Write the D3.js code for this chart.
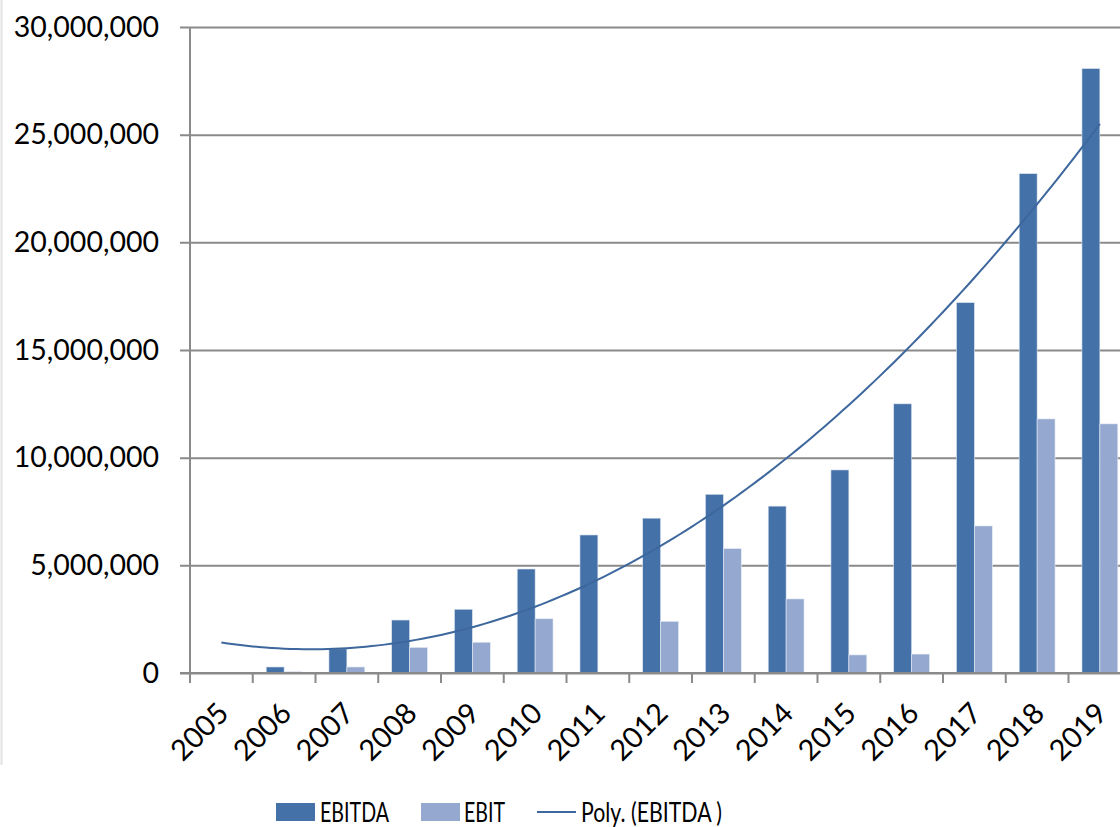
<!DOCTYPE html>
<html>
<head>
<meta charset="utf-8">
<script src="https://cdn.jsdelivr.net/npm/d3@7"></script>
<style>
  body { margin: 0; background: #fff; }
  text { font-family: Lato, "Open Sans", sans-serif; fill: #000; }
</style>
</head>
<body>
<svg id="chart" width="1120" height="827"></svg>
<script>
/* chart data */
const years = ["2005", "2006", "2007", "2008", "2009", "2010", "2011", "2012",
  "2013", "2014", "2015", "2016", "2017", "2018", "2019"];
const ebitda = [0, 280000, 1120000, 2460000, 2960000, 4830000, 6410000, 7190000,
  8300000, 7750000, 9430000, 12500000, 17200000, 23190000, 28070000];
const ebit = [0, 60000, 280000, 1190000, 1430000, 2520000, 30000, 2400000,
  5780000, 3440000, 840000, 880000, 6830000, 11800000, 11570000];
const yTicks = [0, 5000000, 10000000, 15000000, 20000000, 25000000, 30000000];
const legendItems = ["EBITDA", "EBIT", "Poly. (EBITDA )"];

const colDark = "#4472a8";
const colLight = "#95a9d0";
const colLine = "#3d679d";
const colGrid = "#8a8a8a";

const svg = d3.select("#chart");
const margin = { left: 190, top: 27, bottom: 673 };
const bandW = 62.75;

/* scales */
const xScale = d3.scaleBand()
  .domain(years)
  .range([margin.left, margin.left + bandW * years.length])
  .padding(0);

const yScale = d3.scaleLinear()
  .domain([0, 30000000])
  .range([margin.bottom, margin.top]);

const unit = xScale.bandwidth() / 3.5; /* excel style gap width 150% */

/* faint page border on the left */
svg.append("line")
  .attr("x1", 1.5).attr("x2", 1.5).attr("y1", 0).attr("y2", 765)
  .attr("stroke", "#e2e2e2").attr("stroke-width", 2);

/* gridlines + y axis */
const yAxis = d3.axisLeft(yScale)
  .tickValues(yTicks)
  .tickSize(-(xScale.range()[1] - margin.left) - 10)
  .tickPadding(20)
  .tickFormat(d3.format(","));

const gy = svg.append("g")
  .attr("transform", `translate(${margin.left - 10},0)`)
  .call(yAxis);
gy.select(".domain").remove();
gy.selectAll(".tick line")
  .attr("stroke", colGrid).attr("stroke-width", 2)
  .attr("x1", 0);
gy.selectAll(".tick text")
  .attr("x", -21)
  .style("font-size", "28.5px");

/* vertical axis line */
svg.append("line")
  .attr("x1", margin.left).attr("x2", margin.left)
  .attr("y1", margin.top).attr("y2", margin.bottom + 10)
  .attr("stroke", colGrid).attr("stroke-width", 2);

/* category tick marks */
svg.append("g")
  .selectAll("line")
  .data(years)
  .enter()
  .append("line")
  .attr("x1", (d) => xScale(d))
  .attr("x2", (d) => xScale(d))
  .attr("y1", margin.bottom)
  .attr("y2", margin.bottom + 10)
  .attr("stroke", colGrid).attr("stroke-width", 2);

/* bars */
svg.append("g")
  .selectAll("rect")
  .data(years)
  .enter()
  .append("rect")
  .attr("x", (d) => xScale(d) + unit * 0.75)
  .attr("y", (d, i) => yScale(ebitda[i]))
  .attr("width", unit)
  .attr("height", (d, i) => margin.bottom - yScale(ebitda[i]))
  .attr("fill", colDark)
  .attr("stroke", "#dfe6f0").attr("stroke-width", 0.6);

svg.append("g")
  .selectAll("rect")
  .data(years)
  .enter()
  .append("rect")
  .attr("x", (d) => xScale(d) + unit * 1.75)
  .attr("y", (d, i) => yScale(ebit[i]))
  .attr("width", unit)
  .attr("height", (d, i) => margin.bottom - yScale(ebit[i]))
  .attr("fill", colLight)
  .attr("stroke", "#e8edf5").attr("stroke-width", 0.6);

/* x axis baseline over bars */
svg.append("line")
  .attr("x1", margin.left - 10).attr("x2", xScale.range()[1])
  .attr("y1", margin.bottom).attr("y2", margin.bottom)
  .attr("stroke", colGrid).attr("stroke-width", 2);

/* polynomial (order 2) trendline fitted to EBITDA */
const n = ebitda.length;
let s = [0, 0, 0, 0, 0], sy = [0, 0, 0];
ebitda.forEach((v, i) => {
  const t = i + 1;
  for (let k = 0; k < 5; k++) s[k] += Math.pow(t, k);
  for (let k = 0; k < 3; k++) sy[k] += v * Math.pow(t, k);
});
function solve3(A, b) {
  const m = A.map((r, i) => r.concat([b[i]]));
  for (let c = 0; c < 3; c++) {
    let p = c;
    for (let r = c + 1; r < 3; r++) if (Math.abs(m[r][c]) > Math.abs(m[p][c])) p = r;
    [m[c], m[p]] = [m[p], m[c]];
    for (let r = 0; r < 3; r++) {
      if (r === c) continue;
      const f = m[r][c] / m[c][c];
      for (let k = c; k < 4; k++) m[r][k] -= f * m[c][k];
    }
  }
  return m.map((r, i) => r[3] / r[i]);
}
const coef = solve3(
  [[s[0], s[1], s[2]], [s[1], s[2], s[3]], [s[2], s[3], s[4]]], sy);
const trend = d3.range(1, n + 0.001, 0.1).map((t) => ({
  t: t,
  v: coef[0] + coef[1] * t + coef[2] * t * t
}));
const tPos = d3.scaleLinear()
  .domain([1, n])
  .range([xScale(years[0]) + bandW / 2, xScale(years[n - 1]) + bandW / 2]);

svg.append("path")
  .datum(trend)
  .attr("fill", "none")
  .attr("stroke", colLine)
  .attr("stroke-width", 2)
  .attr("d", d3.line().x((d) => tPos(d.t)).y((d) => yScale(d.v)));

/* x labels, rotated */
svg.append("g")
  .selectAll("text")
  .data(years)
  .enter()
  .append("text")
  .attr("text-anchor", "end")
  .attr("transform", (d) =>
    `translate(${xScale(d) + bandW / 2 + 9},${margin.bottom + 42}) rotate(-45)`)
  .style("font-size", "29px")
  .text((d) => d);

/* legend */
const legend = svg.append("g");
legend.append("rect")
  .attr("x", 276).attr("y", 803).attr("width", 39).attr("height", 18)
  .attr("fill", colDark);
legend.append("text")
  .attr("x", 320).attr("y", 822).style("font-size", "26px")
  .attr("textLength", 69).attr("lengthAdjust", "spacingAndGlyphs")
  .text(legendItems[0]);
legend.append("rect")
  .attr("x", 421).attr("y", 803).attr("width", 39).attr("height", 18)
  .attr("fill", colLight);
legend.append("text")
  .attr("x", 464).attr("y", 822).style("font-size", "26px")
  .attr("textLength", 41).attr("lengthAdjust", "spacingAndGlyphs")
  .text(legendItems[1]);
legend.append("line")
  .attr("x1", 537).attr("x2", 576).attr("y1", 812).attr("y2", 812)
  .attr("stroke", colLine).attr("stroke-width", 2);
legend.append("text")
  .attr("x", 581).attr("y", 822).style("font-size", "26px")
  .attr("textLength", 141).attr("lengthAdjust", "spacingAndGlyphs")
  .text(legendItems[2]);
</script>
</body>
</html>
